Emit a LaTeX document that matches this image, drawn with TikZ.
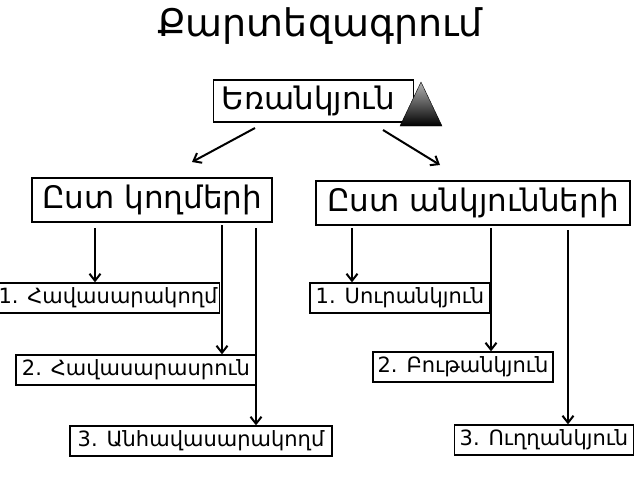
\documentclass[tikz,border=0pt]{standalone}
\usepackage{fontspec}
\setmainfont{DejaVu Sans}
\usetikzlibrary{arrows.meta}
\begin{document}
\begin{tikzpicture}[x=1pt,y=-1pt,
  box/.style={draw,line width=1.3pt,inner sep=2pt,anchor=center,fill=white},
  hd/.style={box,font=\fontsize{31}{34}\selectfont,minimum height=44pt},
  sm/.style={box,font=\fontsize{21}{23}\selectfont,minimum height=30pt},
  arr/.style={line width=2pt,-{Straight Barb[length=7pt,width=11pt]}}]
\useasboundingbox (0,0) rectangle (640,480);
\node[font=\fontsize{38}{42}\selectfont] (t) at (320,26) {Քարտեզագրում};
\node[hd,minimum width=200pt,minimum height=42pt,anchor=west,inner xsep=8pt,text width=184pt] (e) at (213,101) {Եռանկյուն};
\shade[top color=gray!60,bottom color=black,draw=black] (421,82) -- (442,126) -- (400,126) -- cycle;
\node[hd,minimum width=240pt] (l) at (152,200) {Ըստ կողմերի};
\node[hd,minimum width=314pt] (r) at (473,203) {Ըստ անկյունների};
\node[sm,minimum width=218pt] (l1) at (108,298) {1. Հավասարակողմ};
\node[sm,minimum width=240pt] (l2) at (136,370) {2. Հավասարասրուն};
\node[sm,minimum width=262pt] (l3) at (201,441) {3. Անհավասարակողմ};
\node[sm,minimum width=180pt] (r1) at (400,298) {1. Սուրանկյուն};
\node[sm,minimum width=180pt] (r2) at (463,367) {2. Բութանկյուն};
\node[sm,minimum width=179pt] (r3) at (544,440) {3. Ուղղանկյուն};
\coordinate (a1) at (255,128); \coordinate (b1) at (192,162);
\coordinate (a2) at (383,130); \coordinate (b2) at (440,165);
\draw[arr] (a1) -- (b1);
\draw[arr] (a2) -- (b2);
\draw[arr] (95,228) -- (l1.north -| 95,0);
\draw[arr] (222,225) -- (l2.north -| 222,0);
\draw[arr] (256,228) -- (l3.north -| 256,0);
\draw[arr] (352,228) -- (r1.north -| 352,0);
\draw[arr] (491,228) -- (r2.north -| 491,0);
\draw[arr] (568,230) -- (r3.north -| 568,0);
\end{tikzpicture}
\end{document}
